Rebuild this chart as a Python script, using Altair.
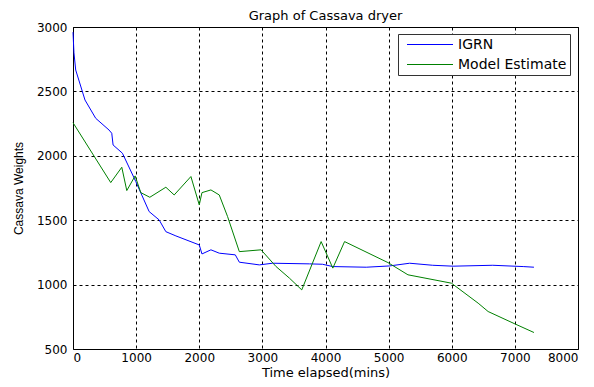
import altair as alt
import pandas as pd

igrn_t = [0, 15, 43, 190, 360, 571, 614, 635, 783, 995, 1206, 1365, 1471, 1630, 2000, 2043, 2185,
          2317, 2571, 2635, 2952, 3160, 3746, 3952, 4116, 4646, 5016, 5333, 5698, 6021, 6650, 7132, 7302]
igrn_w = [2960, 2800, 2666, 2433, 2291, 2200, 2175, 2084, 2020, 1800, 1567, 1502, 1411, 1378, 1308, 1238, 1270,
          1244, 1231, 1174, 1153, 1166, 1161, 1158, 1140, 1135, 1145, 1166, 1150, 1143, 1150, 1140, 1135]

model_t = [0, 598, 773, 852, 984, 1074, 1217, 1471, 1603, 1868, 2000, 2043, 2185, 2317, 2449, 2635, 2979,
           3217, 3429, 3624, 3931, 4116, 4302, 4989, 5306, 5995, 6418, 6576, 7000, 7302]
model_w = [2257, 1792, 1911, 1730, 1844, 1714, 1678, 1756, 1696, 1839, 1619, 1714, 1735, 1696, 1528, 1256, 1270,
           1140, 1050, 959, 1334, 1128, 1334, 1171, 1076, 1011, 856, 791, 695, 628]

series_names = ["IGRN", "Model Estimate"]
series_colors = ["#0000ff", "#008000"]
x_ticks = [0, 1000, 2000, 3000, 4000, 5000, 6000, 7000, 8000]
y_ticks = [500, 1000, 1500, 2000, 2500, 3000]

df = pd.concat([
    pd.DataFrame({"t": igrn_t, "w": igrn_w, "series": series_names[0]}),
    pd.DataFrame({"t": model_t, "w": model_w, "series": series_names[1]}),
])

FONT = "DejaVu Sans"

chart = alt.Chart(df).mark_line(strokeWidth=1).encode(
    x=alt.X("t:Q", scale=alt.Scale(domain=[0, 8000], nice=False),
            axis=alt.Axis(values=x_ticks, format="d", title="Time elapsed(mins)",
                          labelPadding=3, titlePadding=3, titleFontSize=13)),
    y=alt.Y("w:Q", scale=alt.Scale(domain=[500, 3000], nice=False, zero=False),
            axis=alt.Axis(values=y_ticks, format="d", title="Cassava Weights",
                          labelPadding=6, titlePadding=11, titleFont="Liberation Sans", titleFontSize=12)),
    color=alt.Color("series:N",
                    scale=alt.Scale(domain=series_names, range=series_colors),
                    legend=alt.Legend(orient="none", legendX=325, legendY=7, title=None,
                                      fillColor="white", strokeColor="#333333", padding=3,
                                      symbolType="M-3.2857,0H3.2857", symbolSize=196, symbolStrokeWidth=1,
                                      symbolOffset=21.5, labelOffset=20.5,
                                      labelFontSize=14, labelFont=FONT, labelColor="black",
                                      rowPadding=5)),
).properties(
    width=505, height=322,
    title=alt.TitleParams("Graph of Cassava dryer", fontSize=13, fontWeight="normal", font=FONT,
                          offset=-2, anchor="middle", color="black", frame="group"),
    autosize=alt.AutoSizeParams(type="none"),
    padding={"left": 65, "top": 19, "right": 8, "bottom": 30},
).configure_view(
    stroke="black", strokeWidth=1
).configure_axis(
    labelFont=FONT, titleFont=FONT, labelFontSize=12, titleFontWeight="normal",
    labelColor="black", titleColor="black", grid=True, gridColor="black", gridDash=[3, 3],
    gridOpacity=1, gridWidth=1, ticks=False, domain=False
)

chart.save("out.html", embed_options={"renderer": "svg", "actions": False})
